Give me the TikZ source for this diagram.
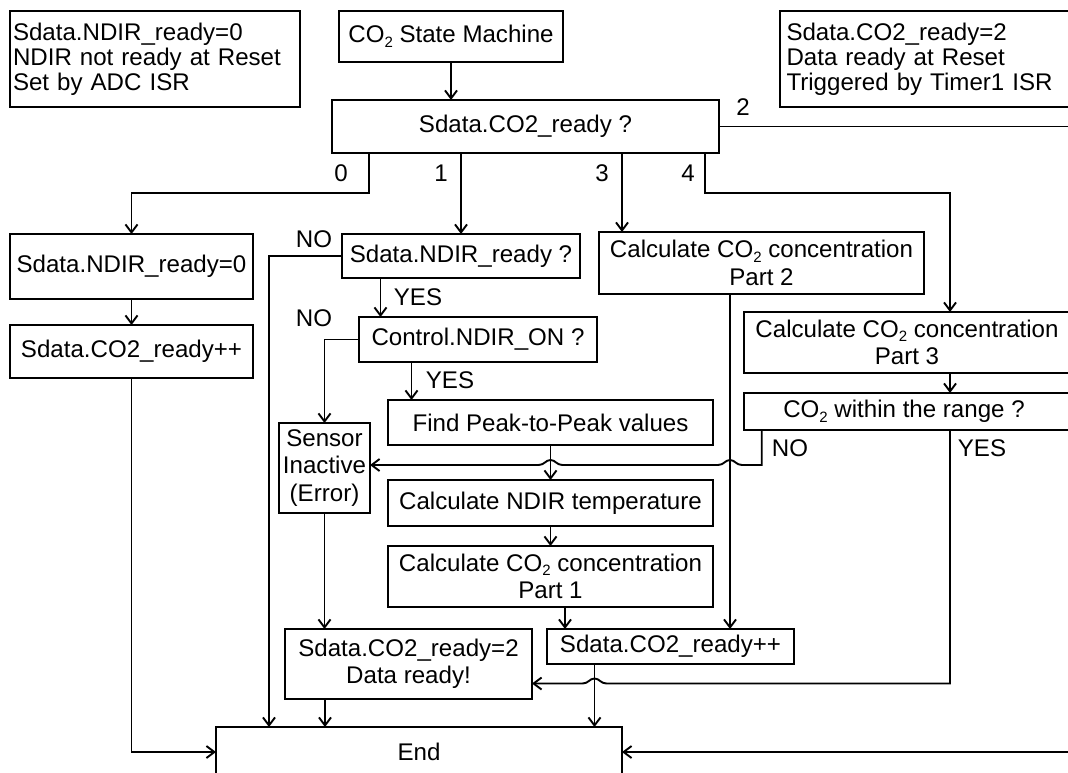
\documentclass[tikz,border=0pt]{standalone}
\usepackage{fontspec}
\setmainfont{Liberation Sans}
\usetikzlibrary{arrows.meta,calc}
% lowered subscript two for CO2
\newcommand\subtwo{\raisebox{-4.5pt}{\fontsize{15}{15}\selectfont 2}}
\newcommand\cotwo{CO\subtwo}

\begin{document}
\begin{tikzpicture}[x=1pt,y=-1pt,
  line width=1.9pt,
  box/.style={draw, anchor=north west, inner sep=0pt, outer sep=0pt, align=center,
    font=\fontsize{24.1}{27.5}\selectfont},
  note/.style={box, align=left, font=\fontsize{24.1}{25}\selectfont},
  lbl/.style={font=\fontsize{24.1}{27}\selectfont, inner sep=0pt},
  arr/.style={-{Straight Barb[length=8pt,width=12pt]}}]
\useasboundingbox (0,0) rectangle (1068,772);
\clip (0,0) rectangle (1068,772);

% ---------- notes ----------
\node[note, inner xsep=3pt, text width=284, minimum width=290, minimum height=96] (noteL) at (10,11)
  {Sdata.NDIR\_ready=0\\NDIR not ready at Reset\\Set by ADC ISR};
\node[note, inner xsep=6.5pt, text width=307, minimum width=320, minimum height=96] (noteR) at (780,11)
  {Sdata.CO2\_ready=2\\Data ready at Reset\\Triggered by Timer1 ISR};

% ---------- boxes ----------
\node[box, minimum width=224, minimum height=51] (sm) at (339,11) {\cotwo{} State Machine};
\node[box, minimum width=387, minimum height=53] (q) at (332,100) {Sdata.CO2\_ready ?};

\node[box, minimum width=243, minimum height=65] (a0) at (10,234) {Sdata.NDIR\_ready=0};
\node[box, minimum width=243, minimum height=53] (a1) at (10,325) {Sdata.CO2\_ready++};

\node[box, minimum width=238, minimum height=44] (nr) at (342,234) {Sdata.NDIR\_ready ?};
\node[box, minimum width=238, minimum height=45] (con) at (359,317) {Control.NDIR\_ON ?};
\node[box, minimum width=325, minimum height=45] (fp) at (388,400) {Find Peak-to-Peak values};
\node[box, minimum width=91, minimum height=90] (si) at (279,423) {Sensor\\Inactive\\(Error)};
\node[box, minimum width=325, minimum height=46] (ct) at (388,480) {Calculate NDIR temperature};
\node[box, minimum width=325, minimum height=61] (p1) at (388,546) {Calculate \cotwo{} concentration\\Part 1};

\node[box, minimum width=325, minimum height=62] (p2) at (599,232) {Calculate \cotwo{} concentration\\Part 2};
\node[box, minimum width=326, minimum height=61] (p3) at (744,312) {Calculate \cotwo{} concentration\\Part 3};
\node[box, minimum width=326, minimum height=37] (rg) at (744,393) {\cotwo{} within the range ?\hspace{6pt}};

\node[box, minimum width=247, minimum height=70] (d2) at (285,629) {Sdata.CO2\_ready=2\\Data ready!};
\node[box, minimum width=247, minimum height=35] (r2) at (547,629) {Sdata.CO2\_ready++};
\node[box, minimum width=406, minimum height=50] (end) at (216,727) {End};

% ---------- helper points ----------
\coordinate (out2) at (1080,0);
\coordinate (t3) at ($(p2.north west)+(23,0)$);
\coordinate (t4) at ($(p3.north west)+(206,0)$);
\coordinate (e1) at ($(end.north west)+(53,0)$);
\coordinate (y1) at ($(nr.south west)+(38.5,0)$);
\coordinate (y2) at ($(con.south west)+(52.5,0)$);
\coordinate (y3) at ($(p1.south west)+(177,0)$);
\coordinate (y4) at ($(p2.south west)+(131,0)$);
\coordinate (y5) at ($(r2.south west)+(47.5,0)$);
\coordinate (y6) at ($(d2.south west)+(40,0)$);
\coordinate (n0) at ($(rg.south west)+(17.7,0)$);

% ---------- connectors ----------
\draw[arr] (sm.south) -- (sm.south |- q.north);
\draw[arr] ($(q.south west)+(37,0)$) -- ++(0,40) -| (a0.north);
\draw[arr] (q.south -| nr.north) -- (nr.north);
\draw[arr] (q.south -| t3) -- (t3);
\draw[arr] ($(q.south west)+(373,0)$) -- ++(0,40) -| (t4);
\draw (q.east) -- (q.east -| out2);

\draw[arr] (a0.south) -- (a1.north);
\draw[arr] (a1.south) |- (end.west);

\draw[arr] (nr.west) -| (e1);
\draw[arr] (y1) -- (y1 |- con.north);
\draw[arr] (con.west) -| (si.north);
\draw[arr] (y2) -- (y2 |- fp.north);
\draw[arr] (fp.south) -- (ct.north);
\draw[arr] (ct.south) -- (p1.north);
\draw[arr] (y3) -- (y3 |- r2.north);
\draw[arr] (y4) -- (y4 |- r2.north);
\draw[arr] (y5) -- (y5 |- end.north);
\draw[arr] (t4 |- p3.south) -- (t4 |- rg.north);
\draw[arr] (si.south) -- (si.south |- d2.north);
\draw[arr] (y6) -- (y6 |- end.north);
\draw[arr] (end.east -| out2) -- (end.east);

% range check NO: back to the error box, hopping over two lines
\draw[arr] (n0) -- ++(0,35) -- (742,465)
  .. controls (736,465) and (735,460) .. (730,460)
  .. controls (725,460) and (724,465) .. (718,465)
  -- (562.5,465)
  .. controls (556.5,465) and (555.5,460) .. (550.5,460)
  .. controls (545.5,460) and (544.5,465) .. (538.5,465)
  -- (si.east |- 0,465);

% range check YES: to the data-ready box, hopping over one line
\draw[arr] (t4 |- rg.south) -- (t4 |- 0,683.5) -- (606.5,683.5)
  .. controls (600.5,683.5) and (599.5,678.5) .. (594.5,678.5)
  .. controls (589.5,678.5) and (588.5,683.5) .. (582.5,683.5)
  -- (d2.east |- 0,683.5);

% ---------- branch labels ----------
\node[lbl] (l0) at (341,173) {0};
\node[lbl] (l1) at (441,173) {1};
\node[lbl] (l2) at (743,107) {2};
\node[lbl] (l3) at (602,173) {3};
\node[lbl] (l4) at (688,173) {4};
\node[lbl] (no1) at (314,239) {NO};
\node[lbl] (yes1) at (418,297) {YES};
\node[lbl] (no2) at (314,318) {NO};
\node[lbl] (yes2) at (450,380) {YES};
\node[lbl] (no3) at (790,448) {NO};
\node[lbl] (yes3) at (982,448) {YES};
\end{tikzpicture}
\end{document}
